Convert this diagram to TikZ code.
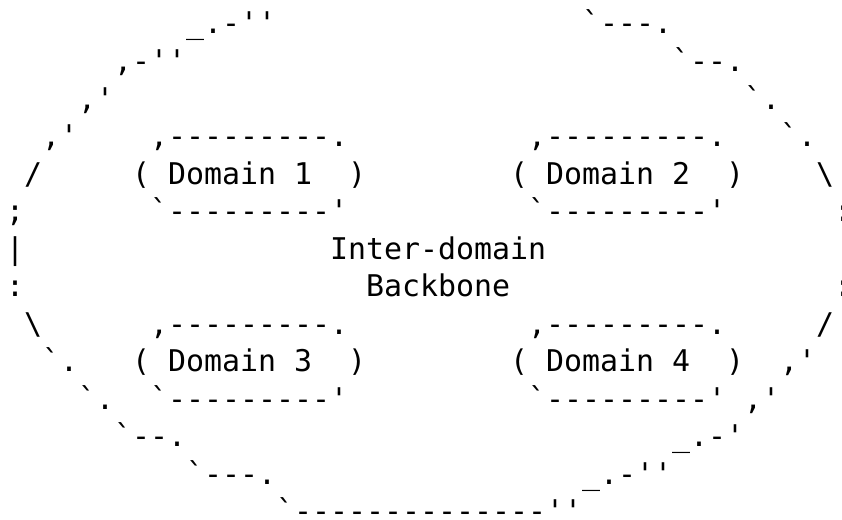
\documentclass[tikz,border=0pt]{standalone}
\usepackage{fontspec}
\setmonofont{DejaVu Sans Mono}
\begin{document}
\frenchspacing
\begin{tikzpicture}[x=1pt,y=-1pt,
  asc/.style={anchor=base west,inner sep=0pt,outer sep=0pt,text=black,
    font=\ttfamily\fontsize{29.9}{36}\selectfont}]
\fill[white] (0,0) rectangle (842,519);
\useasboundingbox (0,0) rectangle (842,519);
% row 0
\node[asc] (e0l) at ({6+18*10},34) {\_.-''};
\node[asc] (e0r) at ({6+18*32},34) {`---.};
% row 1
\node[asc] (e1l) at ({6+18*6},71.5) {,-''};
\node[asc] (e1r) at ({6+18*37},71.5) {`--.};
% row 2
\node[asc] (e2l) at ({6+18*4},109) {,'};
\node[asc] (e2r) at ({6+18*41},109) {`.};
% row 3
\node[asc] (e3l) at ({6+18*2},146.5) {,'};
\node[asc] (d1t) at ({6+18*8},146.5) {,---------.};
\node[asc] (d2t) at ({6+18*29},146.5) {,---------.};
\node[asc] (e3r) at ({6+18*43},146.5) {`.};
% row 4
\node[asc] (e4l) at ({6+18*1},184) {/};
\node[asc] (d1) at ({6+18*7},184) {(~Domain~1~~)};
\node[asc] (d2) at ({6+18*28},184) {(~Domain~2~~)};
\node[asc] (e4r) at ({6+18*45},184) {\textbackslash};
% row 5
\node[asc] (e5l) at ({6+18*0},221.5) {;};
\node[asc] (d1b) at ({6+18*8},221.5) {`---------'};
\node[asc] (d2b) at ({6+18*29},221.5) {`---------'};
\node[asc] (e5r) at ({6+18*46},221.5) {:};
% row 6
\node[asc] (e6l) at ({6+18*0},259) {|};
\node[asc] (bb1) at ({6+18*18},259) {Inter-domain};
% row 7
\node[asc] (e7l) at ({6+18*0},296.5) {:};
\node[asc] (bb2) at ({6+18*20},296.5) {Backbone};
\node[asc] (e7r) at ({6+18*46},296.5) {:};
% row 8
\node[asc] (e8l) at ({6+18*1},334) {\textbackslash};
\node[asc] (d3t) at ({6+18*8},334) {,---------.};
\node[asc] (d4t) at ({6+18*29},334) {,---------.};
\node[asc] (e8r) at ({6+18*45},334) {/};
% row 9
\node[asc] (e9l) at ({6+18*2},371.5) {`.};
\node[asc] (d3) at ({6+18*7},371.5) {(~Domain~3~~)};
\node[asc] (d4) at ({6+18*28},371.5) {(~Domain~4~~)};
\node[asc] (e9r) at ({6+18*43},371.5) {,'};
% row 10
\node[asc] (e10l) at ({6+18*4},409) {`.};
\node[asc] (d3b) at ({6+18*8},409) {`---------'};
\node[asc] (d4b) at ({6+18*29},409) {`---------'};
\node[asc] (e10r) at ({6+18*41},409) {,'};
% row 11
\node[asc] (e11l) at ({6+18*6},446.5) {`--.};
\node[asc] (e11r) at ({6+18*37},446.5) {\_.-'};
% row 12
\node[asc] (e12l) at ({6+18*10},484) {`---.};
\node[asc] (e12r) at ({6+18*32},484) {\_.-''};
% row 13
\node[asc] (e13) at ({6+18*15},521.5) {`--------------''};
\end{tikzpicture}
\end{document}
